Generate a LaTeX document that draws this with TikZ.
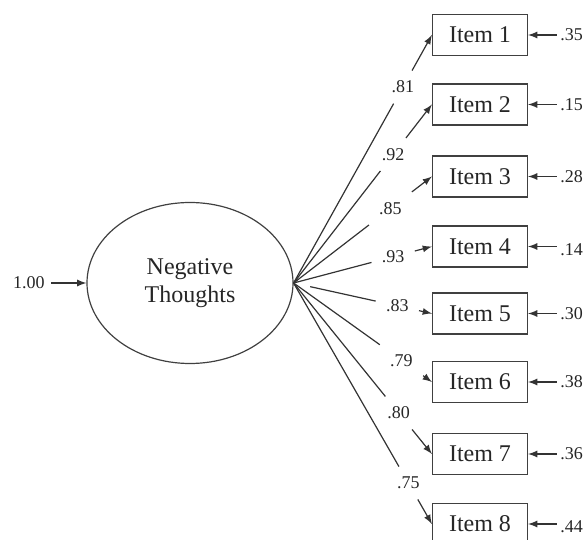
\documentclass[tikz,border=0pt]{standalone}
\usepackage{fontspec}
\setmainfont{Liberation Serif}
\usetikzlibrary{shapes.geometric}

\begin{document}
\begin{tikzpicture}[x=0.5pt, y=-0.5pt, >=latex]
		\tikzstyle {item box} = [draw=black!75, line width=0.6pt, minimum width=47.5pt, minimum height=20.5pt, inner sep=0pt, font=\fontsize{12}{14}\selectfont, text=black!85]
		\tikzstyle {load} = [font=\fontsize{9}{11}\selectfont, inner sep=5pt, text=black!85]
		\tikzstyle {err} = [font=\fontsize{9}{11}\selectfont, inner sep=1.5pt, anchor=west, text=black!85]
		\tikzstyle {path line} = [draw=black!80, line width=0.6pt]

		\useasboundingbox (0,0) rectangle (586,540);
		\clip (0,0) rectangle (586,540);

		\node[ellipse, draw=black!75, line width=0.6pt, minimum width=103pt, minimum height=80.5pt, align=center, font=\fontsize{12}{14}\selectfont, text=black!85] (neg) at (190,283) {Negative\\Thoughts};
		\node[font=\fontsize{9}{11}\selectfont, inner sep=3pt, text=black!85] (var) at (29,283) {1.00};
		\draw[path line, ->] (var) -- (neg.west);

		\node[item box] (i1) at (480,35) {Item 1};
		\node[item box] (i2) at (480,104.5) {Item 2};
		\node[item box] (i3) at (480,176.5) {Item 3};
		\node[item box] (i4) at (480,246.5) {Item 4};
		\node[item box] (i5) at (480,313.5) {Item 5};
		\node[item box] (i6) at (480,382) {Item 6};
		\node[item box] (i7) at (480,454) {Item 7};
		\node[item box] (i8) at (480,524) {Item 8};

		% loadings
		\path (neg.east) -- node[load, pos=0.79] (l1) {.81} (i1.west);
		\draw[path line] (neg.east) -- (l1);
		\draw[path line, ->] (l1) -- (i1.west);

		\path (neg.east) -- node[load, pos=0.72] (l2) {.92} (i2.west);
		\draw[path line] (neg.east) -- (l2);
		\draw[path line, ->] (l2) -- (i2.west);

		\path (neg.east) -- node[load, pos=0.70] (l3) {.85} (i3.west);
		\draw[path line] (neg.east) -- (l3);
		\draw[path line, ->] (l3) -- (i3.west);

		\path (neg.east) -- node[load, pos=0.72] (l4) {.93} (i4.west);
		\draw[path line] (neg.east) -- (l4);
		\draw[path line, ->] (l4) -- (i4.west);

		\path (neg.east) -- node[load, pos=0.75] (l5) {.83} (i5.west);
		\draw[path line, shorten <=8.5pt] (neg.east) -- (l5);
		\draw[path line, ->] (l5) -- (i5.west);

		\path (neg.east) -- node[load, pos=0.78] (l6) {.79} (i6.west);
		\draw[path line] (neg.east) -- (l6);
		\draw[path line, ->] (l6) -- (i6.west);

		\path (neg.east) -- node[load, pos=0.76] (l7) {.80} (i7.west);
		\draw[path line] (neg.east) -- (l7);
		\draw[path line, ->] (l7) -- (i7.west);

		\path (neg.east) -- node[load, pos=0.83] (l8) {.75} (i8.west);
		\draw[path line] (neg.east) -- (l8);
		\draw[path line, ->] (l8) -- (i8.west);

		% error terms
		\node[err] (e1) at (557,35) {.35};
		\node[err] (e2) at (557,104.5) {.15};
		\node[err] (e3) at (557,176.5) {.28};
		\node[err] (e4) at (557,250) {.14};
		\node[err] (e5) at (557,313.5) {.30};
		\node[err] (e6) at (557,382) {.38};
		\node[err] (e7) at (557,454) {.36};
		\node[err] (e8) at (557,527) {.44};
		\draw[path line, ->] (e1.west) -- (i1.east);
		\draw[path line, ->] (e2.west) -- (i2.east);
		\draw[path line, ->] (e3.west) -- (i3.east);
		\draw[path line, ->] (e4.west |- i4.east) -- (i4.east);
		\draw[path line, ->] (e5.west) -- (i5.east);
		\draw[path line, ->] (e6.west) -- (i6.east);
		\draw[path line, ->] (e7.west) -- (i7.east);
		\draw[path line, ->] (e8.west |- i8.east) -- (i8.east);
	\end{tikzpicture}
\end{document}
